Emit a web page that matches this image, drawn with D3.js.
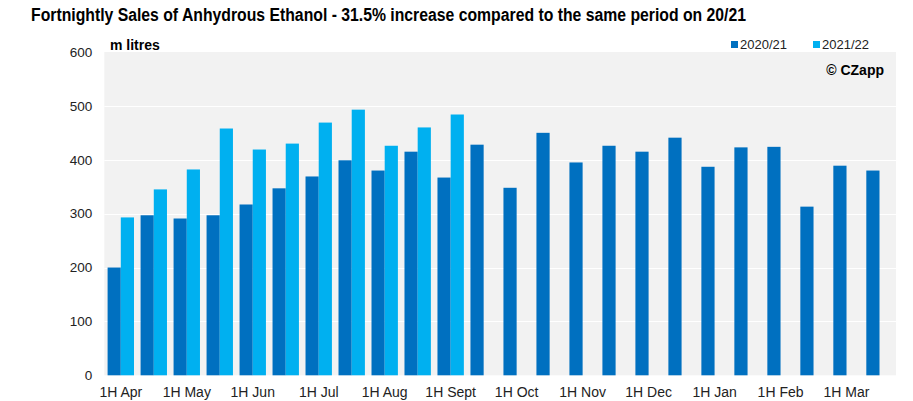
<!DOCTYPE html>
<html><head><meta charset="utf-8">
<script src="https://cdn.jsdelivr.net/npm/d3@7"></script>
<style>
html,body{margin:0;padding:0;background:#fff;}
svg{display:block;font-family:"Liberation Sans",Arial,sans-serif;}
</style></head>
<body><svg id="c" width="913" height="401"></svg>
<script>
const categories = ["1H Apr","2H Apr","1H May","2H May","1H Jun","2H Jun","1H Jul","2H Jul","1H Aug","2H Aug","1H Sept","2H Sept",
  "1H Oct","2H Oct","1H Nov","2H Nov","1H Dec","2H Dec","1H Jan","2H Jan","1H Feb","2H Feb","1H Mar","2H Mar"];
const tickLabels = ["1H Apr","1H May","1H Jun","1H Jul","1H Aug","1H Sept","1H Oct","1H Nov","1H Dec","1H Jan","1H Feb","1H Mar"];
const seriesNames = ["2020/21","2021/22"];
const values2020 = [200,297,291,297,317,347,369,399,380,415,367,428,348,450,395,426,415,441,387,423,424,313,389,380];
const values2021 = [293,345,382,458,419,430,469,493,426,460,484];
const yTicks = [0,100,200,300,400,500,600];
const colors = ["#0070c0","#00b0f0"];

const svg = d3.select("#c");
const m = {l:104.3, r:896, t:52, b:375.3};
const x = d3.scaleBand().domain(categories).range([m.l,m.r]).paddingInner(0.2).paddingOuter(0.1);
const xs = d3.scaleBand().domain(seriesNames).range([0,x.bandwidth()]);
const y = d3.scaleLinear().domain([0,600]).range([m.b,m.t]);

svg.append("rect").attr("x",m.l).attr("y",m.t).attr("width",m.r-m.l).attr("height",m.b-m.t).attr("fill","#f2f2f2");
svg.append("g").selectAll("line").data(yTicks.filter(d=>d>0&&d<600)).join("line")
  .attr("x1",m.l).attr("x2",m.r).attr("y1",d=>Math.round(y(d))+0.5).attr("y2",d=>Math.round(y(d))+0.5)
  .attr("stroke","#fff").attr("stroke-width",1);

const data = [];
values2020.forEach((v,i)=>data.push({c:categories[i],s:seriesNames[0],v}));
values2021.forEach((v,i)=>data.push({c:categories[i],s:seriesNames[1],v}));
svg.append("g").selectAll("rect").data(data).join("rect")
  .attr("x",d=>x(d.c)+xs(d.s)).attr("width",xs.bandwidth())
  .attr("y",d=>y(d.v)).attr("height",d=>y(0)-y(d.v))
  .attr("fill",d=>colors[seriesNames.indexOf(d.s)]);

const ya = d3.axisLeft(y).tickValues(yTicks).tickSize(0).tickPadding(12);
const gy = svg.append("g").attr("transform",`translate(${m.l},0)`).call(ya);
gy.select(".domain").remove();
gy.selectAll("text").attr("font-size","13.5px").attr("fill","#222").attr("font-family","Liberation Sans, Arial, sans-serif");

const xa = d3.axisBottom(x).tickValues(tickLabels).tickSize(0).tickPadding(11.5);
const gx = svg.append("g").attr("transform",`translate(0,${m.b})`).call(xa);
gx.select(".domain").remove();
gx.selectAll("text").attr("font-size","14px").attr("fill","#222").attr("font-family","Liberation Sans, Arial, sans-serif");

svg.append("text").attr("x",31).attr("y",20.5).attr("font-size","18px").attr("font-weight","bold").attr("fill","#000")
  .attr("textLength",715).attr("lengthAdjust","spacingAndGlyphs")
  .text("Fortnightly Sales of Anhydrous Ethanol - 31.5% increase compared to the same period on 20/21");
svg.append("text").attr("x",110).attr("y",50).attr("font-size","14px").attr("font-weight","bold").attr("fill","#000").text("m litres");
svg.append("text").attr("x",884).attr("y",75).attr("text-anchor","end").attr("font-size","14px").attr("font-weight","bold").attr("fill","#000").text("© CZapp");

const lx = [731,813];
const lg = svg.append("g");
seriesNames.forEach((s,i)=>{
  lg.append("rect").attr("x",lx[i]).attr("y",41).attr("width",7).attr("height",7).attr("fill",colors[i]);
  lg.append("text").attr("x",lx[i]+9).attr("y",49).attr("font-size","13px").attr("fill","#222").text(s);
});
</script></body></html>
